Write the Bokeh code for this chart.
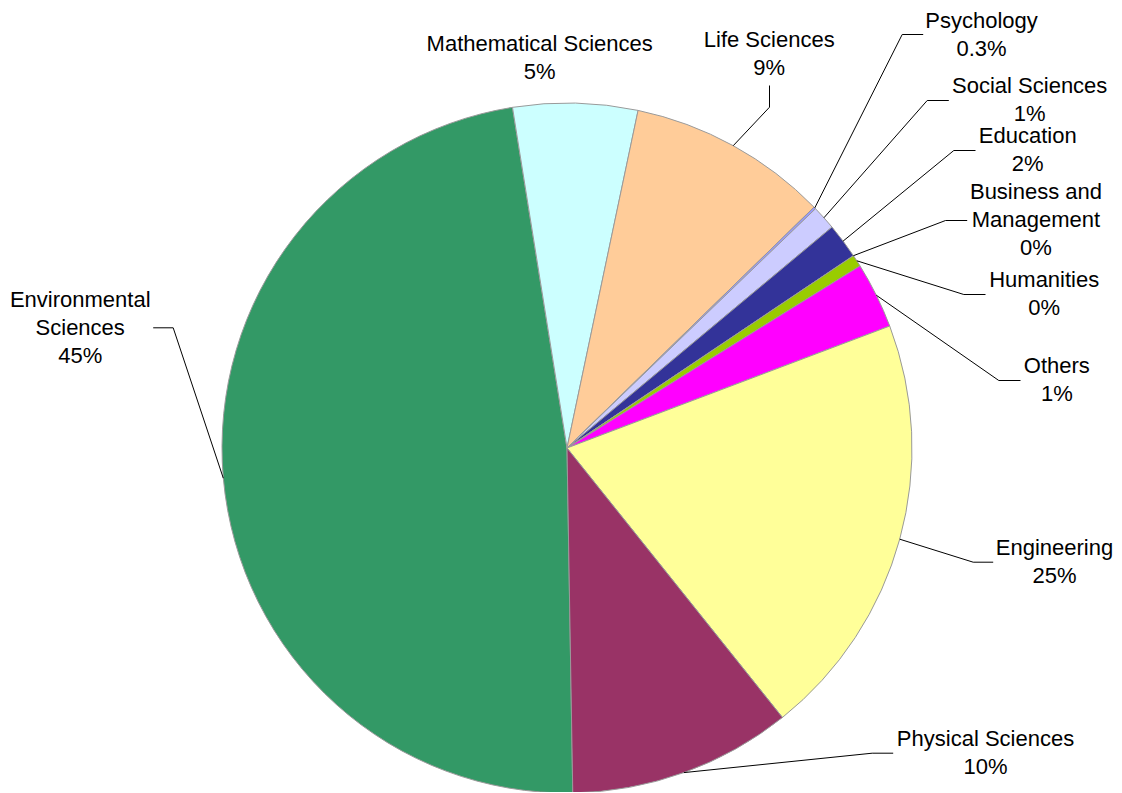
import math
from bokeh.plotting import figure
from bokeh.models import Range1d, ColumnDataSource
from bokeh.core.properties import value
from bokeh.embed import file_html
from bokeh.resources import INLINE

# ---- data (share of the circle, percent) ----
categories = ["Environmental Sciences", "Mathematical Sciences", "Life Sciences",
              "Psychology", "Social Sciences", "Education", "Business and Management",
              "Humanities", "Others", "Engineering", "Physical Sciences"]
shares = [47.75, 5.83, 9.40, 0.10, 1.14, 1.65, 0.0, 0.56, 3.10, 20.02, 10.47]
label_texts = ["Environmental\nSciences\n45%", "Mathematical Sciences\n5%", "Life Sciences\n9%",
               "Psychology\n0.3%", "Social Sciences\n1%", "Education\n2%",
               "Business and\nManagement\n0%", "Humanities\n0%", "Others\n1%",
               "Engineering\n25%", "Physical Sciences\n10%"]
colors = ["#339966", "#CCFFFF", "#FFCC99", "#9999FF", "#CCCCFF", "#333399",
          "#FF8080", "#99CC00", "#FF00FF", "#FFFF99", "#993366"]

# ---- layout (picture pixel coordinates) ----
W, H = 1120, 792
CX, CY, R = 566.5, 447.5, 345.0
START_DEG = -89.04
TEXT_DY = -8.0  # correction for where the text glyph places its baseline
# label anchor (x centre, first baseline)
label_pos = [(79.7, 306.7), (539.2, 50.7), (768.7, 46.5), (981.0, 27.7), (1029.2, 93.0),
             (1027.2, 143.3), (1035.5, 199.0), (1043.7, 287.3), (1056.3, 373.3),
             (1054.0, 555.0), (985.0, 746.0)]
LINE_STEP = 28.0
# leader lines: elbow and stub end (None = no leader)
leaders = [((172.7, 327.3), (152.7, 327.3)), None, ((769, 106.7), (769, 85)),
           ((901.7, 34), (922.7, 34)), ((926.7, 100), (948.3, 100)),
           ((953.3, 150), (975, 150)), ((945, 220), (966.7, 220)),
           ((963.3, 294), (985, 294)), ((998.3, 380), (1020, 380)),
           ((972.7, 561.7), (992.7, 561.7)), ((871.7, 752.7), (892.7, 752.7))]


def fy(py):
    return 793 - py


p = figure(width=W, height=H, output_backend="svg", toolbar_location=None,
           x_range=Range1d(0, W), y_range=Range1d(793 - H, 793),
           min_border=0, min_border_left=0, min_border_right=0,
           min_border_top=0, min_border_bottom=0)
p.axis.visible = False
p.grid.visible = False
p.outline_line_color = None
p.background_fill_color = "white"
p.border_fill_color = "white"

total = sum(shares)
a0 = math.radians(START_DEG)
cum = 0.0
starts, ends, mids = [], [], []
for s in shares:
    st = a0 - 2 * math.pi * cum / total
    cum += s
    en = a0 - 2 * math.pi * cum / total
    starts.append(st)
    ends.append(en)
    mids.append((st + en) / 2)

keep = [i for i, s in enumerate(shares) if s > 0]
src = ColumnDataSource(dict(
    x=[CX] * len(keep), y=[fy(CY)] * len(keep),
    start=[starts[i] for i in keep], end=[ends[i] for i in keep],
    color=[colors[i] for i in keep]))
p.wedge(x="x", y="y", radius=R, start_angle="start", end_angle="end",
        direction="clock", fill_color="color", line_color="#9a9a9a",
        line_width=1, source=src)

# leader lines
xs, ys = [], []
for i, ld in enumerate(leaders):
    if ld is None:
        continue
    ax = CX + R * math.cos(mids[i])
    ay = fy(CY) + R * math.sin(mids[i])
    (ex, ey), (tx, ty) = ld
    xs.append([ax, ex, tx])
    ys.append([ay, fy(ey), fy(ty)])
p.multi_line(xs=xs, ys=ys, line_color="black", line_width=1)

# labels
tx_, ty_, tt_ = [], [], []
for (lx, ly), txt in zip(label_pos, label_texts):
    for k, line in enumerate(txt.split("\n")):
        tx_.append(lx)
        ty_.append(fy(ly + k * LINE_STEP + TEXT_DY))
        tt_.append(line)
p.text(x=tx_, y=ty_, text=tt_, text_align="center", text_baseline="alphabetic",
       text_font=value("Liberation Sans"), text_font_size="22px", text_color="black")

open("out.html", "w").write(file_html(p, INLINE))
